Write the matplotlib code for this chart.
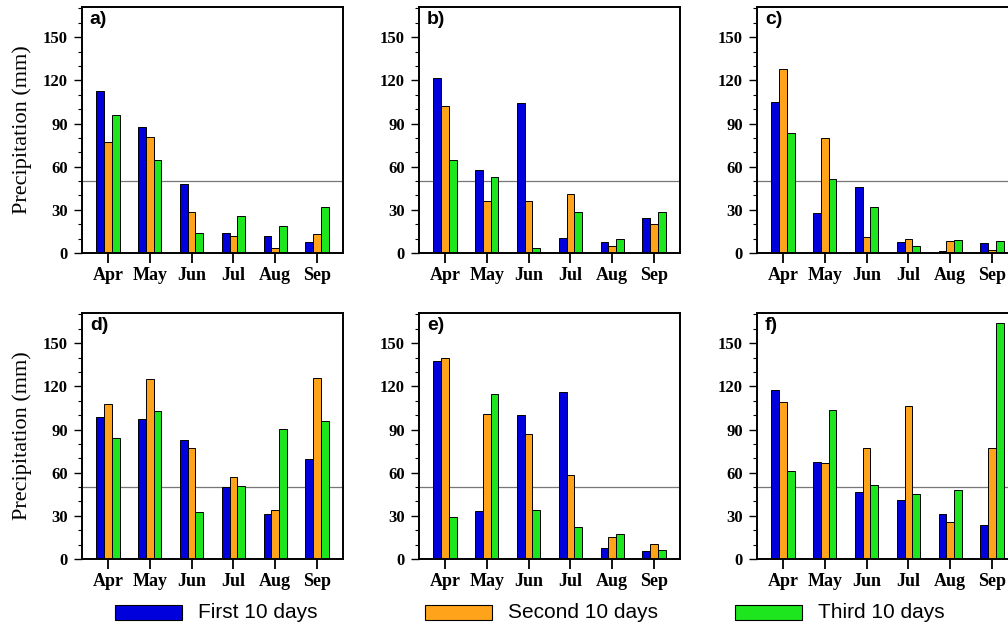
import numpy as np
import matplotlib
matplotlib.use('Agg')
import matplotlib.pyplot as plt
from matplotlib.patches import Rectangle
from matplotlib.ticker import MultipleLocator

months = ['Apr', 'May', 'Jun', 'Jul', 'Aug', 'Sep']
series_names = ['First 10 days', 'Second 10 days', 'Third 10 days']
panel_labels = ['a)', 'b)', 'c)', 'd)', 'e)', 'f)']

# precipitation per dekad (mm), one list per panel: first / second / third 10 days
a_first = [112.6, 87.5, 47.8, 13.8, 11.8, 7.8]
a_second = [77.3, 80.8, 28.8, 11.8, 3.2, 13.2]
a_third = [96.2, 64.4, 13.8, 25.8, 18.5, 32.0]

b_first = [121.8, 57.7, 104.3, 10.6, 7.8, 24.5]
b_second = [102.5, 36.2, 36.2, 41.0, 4.6, 20.5]
b_third = [64.4, 53.0, 3.7, 28.6, 9.9, 28.6]

c_first = [105.0, 27.5, 46.2, 7.8, 1.2, 7.2]
c_second = [127.8, 80.0, 11.1, 9.7, 8.3, 1.8]
c_third = [83.5, 51.5, 32.0, 5.1, 9.2, 8.3]

d_first = [99.0, 97.0, 82.9, 50.0, 31.3, 69.2]
d_second = [107.6, 125.0, 77.1, 56.9, 34.0, 125.5]
d_third = [83.8, 103.0, 32.6, 50.7, 90.7, 95.6]

e_first = [137.5, 33.3, 100.2, 116.4, 7.6, 5.6]
e_second = [140.0, 100.5, 86.8, 58.1, 15.0, 10.2]
e_third = [29.2, 114.4, 34.0, 22.5, 17.6, 6.0]

f_first = [117.8, 67.6, 46.8, 40.7, 31.0, 23.6]
f_second = [109.0, 66.4, 77.1, 106.3, 25.7, 77.1]
f_third = [60.9, 103.5, 51.4, 45.1, 48.1, 164.0]

threshold = 50

panels = [
    (a_first, a_second, a_third),
    (b_first, b_second, b_third),
    (c_first, c_second, c_third),
    (d_first, d_second, d_third),
    (e_first, e_second, e_third),
    (f_first, f_second, f_third),
]

colors = ['#0000dd', '#ffa31a', '#1ee61e']
serif = 'Liberation Serif'
sans = 'Liberation Sans'

W, H = 1008, 627
fig = plt.figure(figsize=(W / 100, H / 100), dpi=100)

lefts = [82, 419, 757]
tops = [7, 313]
ax_w, ax_h = 261, 246
width = 0.185
x = np.arange(len(months))

for i, (first, second, third) in enumerate(panels):
    row, col = divmod(i, 3)
    l, t = lefts[col], tops[row]
    ax = fig.add_axes([l / W, (H - t - ax_h) / H, ax_w / W, ax_h / H])
    # bars sit so the tick falls between the 2nd and 3rd bar, as in the original
    for k, vals in enumerate((first, second, third)):
        ax.bar(x + (k - 1.5) * width, vals, width, align='edge',
               color=colors[k], edgecolor='black', linewidth=0.7, zorder=2)
    ax.axhline(threshold, color='#777777', linewidth=0.9, zorder=1)
    ax.set_xlim(-0.62, 5.62)
    ax.set_ylim(0, 171)
    ax.set_xticks(x)
    ax.set_xticklabels(months, fontfamily=serif, fontweight='bold', fontsize=13)
    ax.yaxis.set_major_locator(MultipleLocator(30))
    ax.yaxis.set_minor_locator(MultipleLocator(10))
    for lab in ax.get_yticklabels():
        lab.set_fontfamily(serif)
        lab.set_fontweight('bold')
        lab.set_fontsize(12)
    ax.tick_params(axis='x', length=7, width=1.3, pad=3, direction='out')
    ax.tick_params(axis='y', which='major', length=6, width=1.0, pad=4, direction='out')
    ax.tick_params(axis='y', which='minor', length=3, width=0.8, direction='out')
    for s in ax.spines.values():
        s.set_linewidth(1.4)
    ax.text(0.03, 0.985, panel_labels[i], transform=ax.transAxes, ha='left', va='top',
            fontfamily=sans, fontweight='bold', fontsize=14)
    if col == 0:
        ax.set_ylabel('Precipitation (mm)', fontfamily=serif, fontsize=16, labelpad=8)

# legend along the bottom
leg_x = [115, 425, 735]
for k, name in enumerate(series_names):
    x0 = leg_x[k]
    fig.add_artist(Rectangle((x0 / W, (H - 620) / H), 67 / W, 15 / H,
                             transform=fig.transFigure, facecolor=colors[k],
                             edgecolor='black', linewidth=0.8))
    fig.text((x0 + 83) / W, (H - 612) / H, name, fontfamily=sans, fontsize=15,
             ha='left', va='center')

fig.savefig('out.png', dpi=100)
